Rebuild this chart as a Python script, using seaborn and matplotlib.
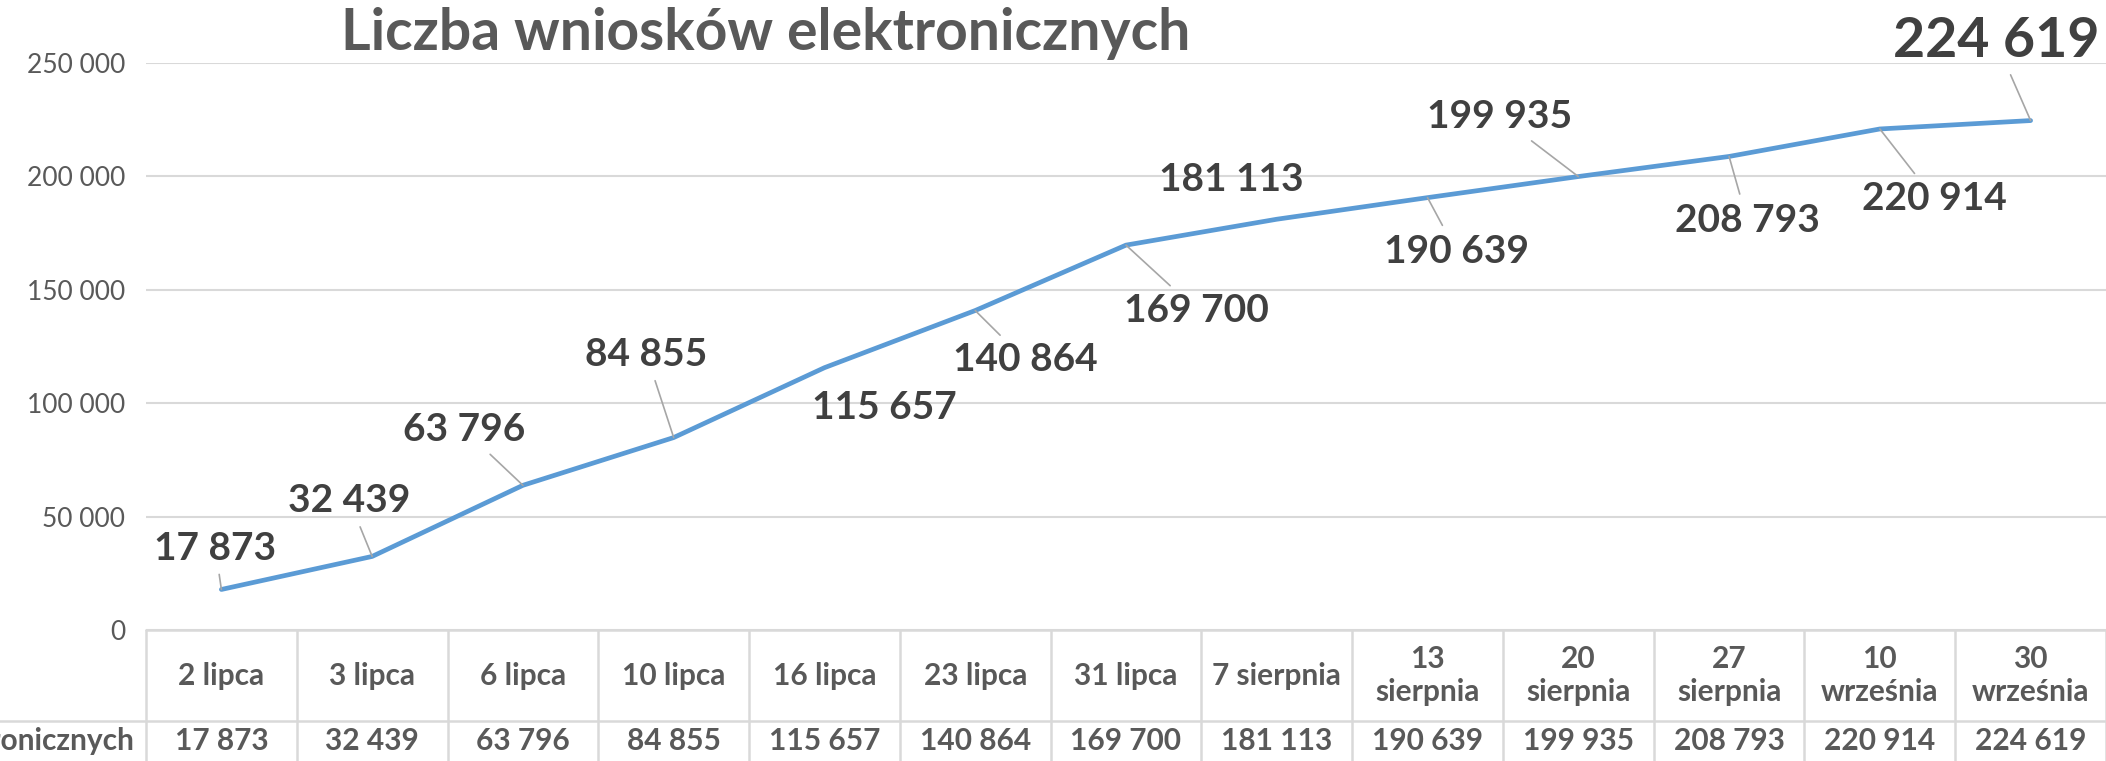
import numpy as np
import pandas as pd
import matplotlib
matplotlib.use("Agg")
import matplotlib.pyplot as plt
import matplotlib.transforms as mtransforms
from matplotlib.ticker import FuncFormatter, MultipleLocator
import seaborn as sns

# --- dane ---
tytul = "Liczba wniosków elektronicznych"
daty = ["2 lipca", "3 lipca", "6 lipca", "10 lipca", "16 lipca", "23 lipca", "31 lipca",
        "7 sierpnia", "13 sierpnia", "20 sierpnia", "27 sierpnia", "10 września", "30 września"]
wnioski = [17873, 32439, 63796, 84855, 115657, 140864, 169700,
           181113, 190639, 199935, 208793, 220914, 224619]

# polozenie etykiet danych (przesuniecie w kolumnach, wysokosc w jednostkach osi)
etykieta_dx = [-0.04, -0.15, -0.39, -0.18, 0.40, 0.33, 0.47, -0.30, 0.19, -0.52, 0.12, 0.36, -0.23]
etykieta_y = [36100, 56900, 88300, 121400, 98300, 119100, 141000,
              198500, 167100, 226300, 180700, 190200, 259500]
bez_linii = {4, 7}  # etykiety bez linii odniesienia


def fmt(v):
    return f"{v:,.0f}".replace(",", " ")


sns.set_theme(style="white")
plt.rcParams["font.family"] = ["Lato", "DejaVu Sans"]

W, H = 2106, 761
fig = plt.figure(figsize=(W / 100, H / 100), dpi=100)
ax = fig.add_axes([146 / W, 131 / H, 1960 / W, 567 / H])

df = pd.DataFrame({"poz": np.arange(len(daty)), "wnioski": wnioski})
sns.lineplot(data=df, x="poz", y="wnioski", color="#5B9BD5", linewidth=3.4,
             ax=ax, solid_capstyle="round", zorder=3)

ax.set_xlim(-0.5, len(daty) - 0.5)
ax.set_ylim(0, 250000)
ax.yaxis.set_major_locator(MultipleLocator(50000))
ax.yaxis.set_major_formatter(FuncFormatter(lambda v, p: fmt(v)))
ax.tick_params(axis="y", length=0, pad=15, labelsize=19, labelcolor="#595959")
ax.set_xticks([])
ax.set_xlabel("")
ax.set_ylabel("")
for s in ax.spines.values():
    s.set_visible(False)
ax.grid(axis="y", color="#D9D9D9", linewidth=1.5)

# --- tabela danych pod wykresem ---
trans = mtransforms.blended_transform_factory(ax.transData, ax.transAxes)
wiersz1 = -91 / 567
wiersz2 = -111 / 567
for b in np.arange(len(daty) + 1) - 0.5:
    ax.plot([b, b], [0, -0.3], transform=trans, color="#D9D9D9", lw=1.8, clip_on=False)
ax.plot([0, 1], [0, 0], transform=ax.transAxes, color="#D9D9D9", lw=1.8, clip_on=False)
ax.plot([-0.08, 1], [wiersz1, wiersz1], transform=ax.transAxes, color="#D9D9D9", lw=1.8, clip_on=False)

for i, (d, v) in enumerate(zip(daty, wnioski)):
    lab = d.replace(" ", "\n", 1) if len(d) > 10 else d
    ax.text(i, wiersz1 / 2, lab, transform=trans, ha="center", va="center",
            fontsize=21.5, fontweight="bold", color="#595959", linespacing=1.25)
    ax.text(i, wiersz2, fmt(v), transform=trans, ha="center", va="center",
            fontsize=21.5, fontweight="bold", color="#595959")
ax.text(-12 / 1960, wiersz2, tytul, transform=ax.transAxes, ha="right", va="center",
        fontsize=21.5, fontweight="bold", color="#595959")

# --- etykiety danych ---
for i, v in enumerate(wnioski):
    rozmiar = 40 if i == len(wnioski) - 1 else 28
    strzalka = None if i in bez_linii else dict(arrowstyle="-", color="#A6A6A6", lw=1.2,
                                                 shrinkA=4, shrinkB=0)
    ax.annotate(fmt(v), xy=(i, v), xytext=(i + etykieta_dx[i], etykieta_y[i]),
                textcoords="data", ha="center", va="center", fontsize=rozmiar,
                fontweight="bold", color="#404040", arrowprops=strzalka,
                annotation_clip=False, zorder=4)

fig.text(766 / W, 1 - 34 / H, tytul, ha="center", va="center",
         fontsize=41, fontweight="bold", color="#595959")

fig.savefig("out.png", dpi=100)
